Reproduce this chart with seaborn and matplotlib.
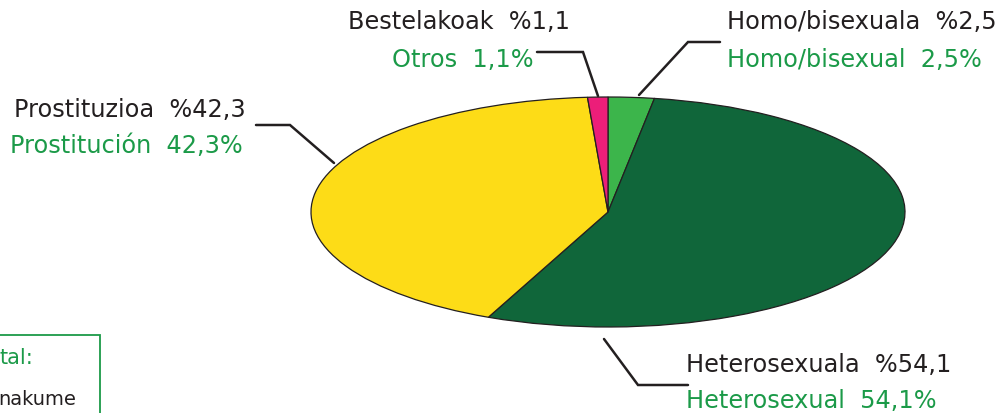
import numpy as np
import matplotlib
matplotlib.use('Agg')
import matplotlib.pyplot as plt
import seaborn as sns
from matplotlib.patches import Rectangle

# data (clockwise from 12 o'clock)
labels_eu = ['Homo/bisexuala', 'Heterosexuala', 'Prostituzioa', 'Bestelakoak']
labels_es = ['Homo/bisexual', 'Heterosexual', 'Prostitución', 'Otros']
values = [2.5, 54.1, 42.3, 1.1]
slice_colors = ['#3cb54b', '#10663a', '#fddc17', '#ec1e79']

TEXT_DARK = '#231f20'
TEXT_GREEN = '#1b9a48'

sns.set_theme(style='white')
plt.rcParams['font.family'] = ['DejaVu Sans']

W, H = 1007, 414
fig = plt.figure(figsize=(W / 100, H / 100), dpi=100)
ax = fig.add_axes([0, 0, 1, 1])

# ellipse geometry in pixels (centre and semi axes)
cx, cy, rx, ry = 608, 213, 297, 115


def px(x, y):
    """pixel position (from top-left) -> data coords of the pie axes"""
    return (x - cx) / rx, (cy - y) / ry


ax.pie(values, colors=slice_colors, startangle=90, counterclock=False,
       wedgeprops=dict(edgecolor=TEXT_DARK, linewidth=0.9))
ax.set_aspect('auto')
ax.set_xlim((0 - cx) / rx, (W - cx) / rx)
ax.set_ylim((cy - H) / ry, cy / ry)
ax.axis('off')

# leader lines (pixel paths)
leaders = {
    'Bestelakoak': [(537, 53), (583, 53), (598, 97)],
    'Homo/bisexuala': [(639, 96), (688, 43), (720, 43)],
    'Prostituzioa': [(256, 126), (290, 126), (334, 164)],
    'Heterosexuala': [(604, 340), (638, 386), (688, 386)],
}
for name, pts in leaders.items():
    xs, ys = zip(*[px(x, y) for x, y in pts])
    ax.plot(xs, ys, color=TEXT_DARK, lw=1.8, solid_joinstyle='miter')

# label anchors: left x, y of basque line, y of spanish line
label_pos = {
    'Bestelakoak': (348, 22, 60, 392),
    'Homo/bisexuala': (727, 22, 60, 727),
    'Prostituzioa': (14, 110, 146, 10),
    'Heterosexuala': (686, 365, 401, 686),
}
fs = 17.3
for eu, es, v in zip(labels_eu, labels_es, values):
    x1, y1, y2, x2 = label_pos[eu]
    num = f'{v:.1f}'.replace('.', ',')
    fig.text(x1 / W, 1 - y1 / H, f'{eu}  %{num}', color=TEXT_DARK,
             fontsize=fs, va='center', ha='left')
    fig.text(x2 / W, 1 - y2 / H, f'{es}  {num}%', color=TEXT_GREEN,
             fontsize=fs, va='center', ha='left')

# cut-off legend box at bottom left
fig.patches.append(Rectangle((-10 / W, -20 / H), 110 / W, (414 - 336 + 20) / H,
                             transform=fig.transFigure, fill=False,
                             edgecolor=TEXT_GREEN, lw=1.3))
fig.text(0 / W, 1 - 358 / H, 'tal:', color=TEXT_GREEN, fontsize=15,
         va='center', ha='left')
fig.text(-2 / W, 1 - 400 / H, 'nakume', color=TEXT_DARK, fontsize=14,
         va='center', ha='left')

fig.savefig('out.png', dpi=100)
